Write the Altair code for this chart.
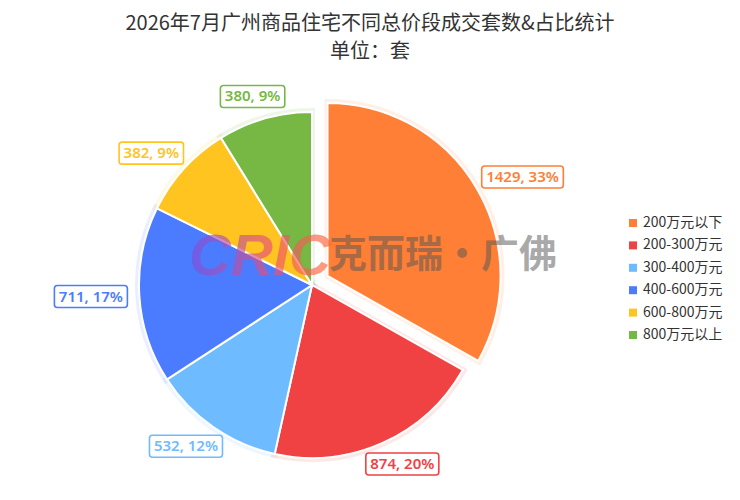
import altair as alt
import pandas as pd

categories = ["200万元以下", "200-300万元", "300-400万元", "400-600万元", "600-800万元", "800万元以上"]
values = [1429, 874, 532, 711, 382, 380]
colors = ["#FE7F35", "#F04242", "#6FBBFF", "#4B7BFF", "#FFC41F", "#76B843"]
exploded_category = "200万元以下"

title_text = "2026年7月广州商品住宅不同总价段成交套数&占比统计"
subtitle_text = "单位：套"

df = pd.DataFrame({"cat": categories, "value": values, "order": list(range(len(categories)))})

CX, CY, R = 304, 207, 173
EXPLODE = 18
LABEL_GAP = 12
LEG_X, LEG_Y0, LEG_STEP = 625, 145, 22.4

cscale = alt.Scale(domain=categories, range=colors)

base = alt.Chart(df).transform_window(
    cum="sum(value)", sort=[alt.SortField("order")]
).transform_joinaggregate(
    total="sum(value)"
).transform_calculate(
    t0="(datum.cum - datum.value) / datum.total * 2 * PI",
    t1="datum.cum / datum.total * 2 * PI",
    lgy=f"{LEG_Y0} + datum.order * {LEG_STEP}",
).transform_calculate(
    mid="(datum.t0 + datum.t1) / 2",
    ex=f"datum.cat == '{exploded_category}' ? {EXPLODE} : 0",
    label="format(datum.value, 'd') + ', ' + format(datum.value / datum.total, '.0%')",
).transform_calculate(
    ax=f"{CX} + datum.ex * sin(datum.mid)",
    ay=f"{CY} - datum.ex * cos(datum.mid)",
    w="8.6 * (length(datum.label) - 3) + 30",
).transform_calculate(
    lx=f"datum.ax + ({R} + {LABEL_GAP}) * sin(datum.mid) + datum.w / 2 * sin(datum.mid)",
    ly=f"datum.ay - ({R} + {LABEL_GAP}) * cos(datum.mid) - 11 * cos(datum.mid)",
).transform_calculate(
    bx1="datum.lx - datum.w / 2",
    bx2="datum.lx + datum.w / 2",
    by1="datum.ly - 11",
    by2="datum.ly + 11",
)

X = alt.X("ax:Q", scale=None, axis=None)
Y = alt.Y("ay:Q", scale=None, axis=None)
COLOR = alt.Color("cat:N", scale=cscale, legend=None)

glow = base.mark_arc(radius=174, filled=False, strokeWidth=6, strokeOpacity=0.12).encode(
    x=X, y=Y,
    theta=alt.Theta("t0:Q", scale=None), theta2="t1:Q",
    color=COLOR,
)

arcs = base.mark_arc(radius=R, stroke="white", strokeWidth=2).encode(
    x=X, y=Y,
    theta=alt.Theta("t0:Q", scale=None), theta2="t1:Q",
    color=COLOR,
)

boxes = base.mark_rect(fill="white", strokeWidth=1.6, cornerRadius=3).encode(
    x=alt.X("bx1:Q", scale=None, axis=None), x2="bx2:Q",
    y=alt.Y("by1:Q", scale=None, axis=None), y2="by2:Q",
    stroke=alt.Stroke("cat:N", scale=cscale, legend=None),
)

texts = base.mark_text(font="Noto Sans", fontSize=15, fontWeight=600,
                       align="center", baseline="middle").encode(
    x=alt.X("lx:Q", scale=None, axis=None),
    y=alt.Y("ly:Q", scale=None, axis=None),
    text="label:N",
    color=COLOR,
)

leg_sym = base.mark_square(size=64, opacity=1, filled=True).encode(
    x=alt.X("x0:Q", scale=None, axis=None),
    y=alt.Y("lgy:Q", scale=None, axis=None),
    color=COLOR,
).transform_calculate(x0=f"{LEG_X}")

leg_txt = base.mark_text(font="Noto Sans CJK SC", fontSize=14, color="#333333",
                         align="left", baseline="middle").encode(
    x=alt.X("x1:Q", scale=None, axis=None),
    y=alt.Y("lgy:Q", scale=None, axis=None),
    text="cat:N",
).transform_calculate(x1=f"{LEG_X} + 10")

wm_grad = alt.LinearGradient(
    gradient="linear",
    stops=[alt.GradientStop(offset=0, color="#7B4FE0"),
           alt.GradientStop(offset=0.55, color="#E8507A"),
           alt.GradientStop(offset=1, color="#FF6A33")],
    x1=0, x2=1, y1=0, y2=0,
)
wm1 = alt.Chart(pd.DataFrame({"t": ["CRIC"]})).mark_text(
    font="Liberation Sans", fontSize=58, fontWeight="bold", fontStyle="italic",
    color=wm_grad, opacity=0.65, align="center", baseline="middle"
).encode(text="t:N", x=alt.value(252), y=alt.value(180))

wm2 = alt.Chart(pd.DataFrame({"t": ["克而瑞·广佛"]})).mark_text(
    font="Noto Sans CJK SC", fontSize=38, fontWeight="bold",
    color="#555555", opacity=0.5, align="center", baseline="middle"
).encode(text="t:N", x=alt.value(435), y=alt.value(178))

chart = alt.layer(glow, arcs, boxes, texts, leg_sym, leg_txt, wm1, wm2).properties(
    width=724, height=414,
    padding={"left": 0, "top": 70, "right": 0, "bottom": 0},
    autosize=alt.AutoSizeParams(type="none"),
    title=alt.TitleParams(
        text=title_text, subtitle=subtitle_text,
        font="Noto Sans CJK SC", fontSize=20, fontWeight="normal", color="#333333",
        subtitleFont="Noto Sans CJK SC", subtitleFontSize=20, subtitleColor="#333333",
        subtitlePadding=8, anchor="middle", offset=16,
    ),
).configure_view(stroke=None)

chart.save("out.html", embed_options={"renderer": "svg", "actions": False})
